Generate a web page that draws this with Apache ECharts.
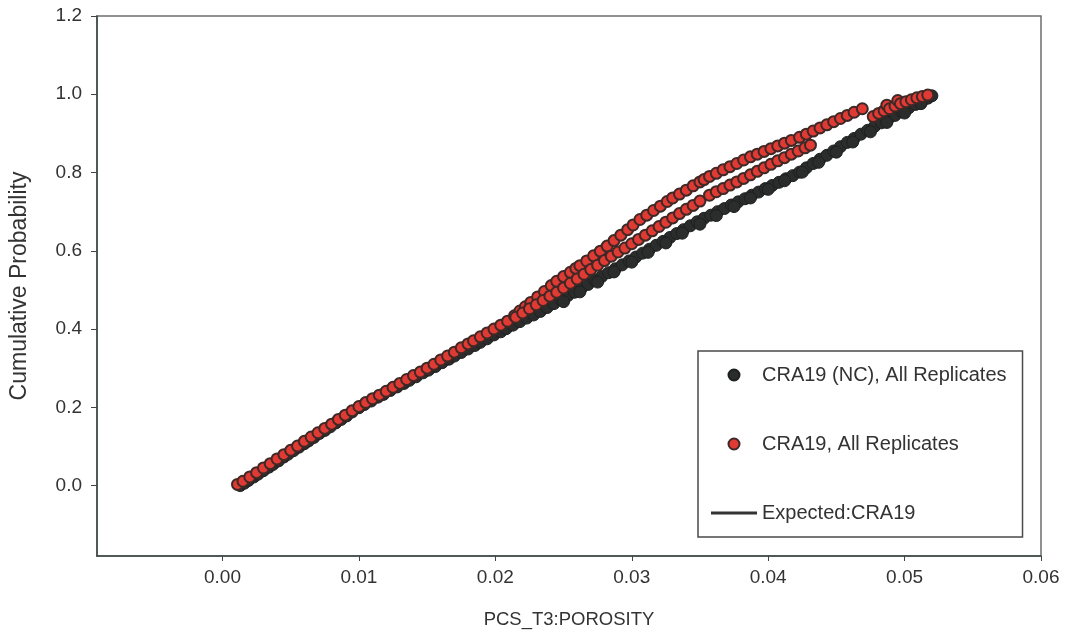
<!DOCTYPE html>
<html>
<head>
<meta charset="utf-8">
<script src="https://cdn.jsdelivr.net/npm/echarts@6/dist/echarts.min.js"></script>
<style>
html,body{margin:0;padding:0;background:#fff;}
#chart{width:1065px;height:637px;}
</style>
</head>
<body>
<div id="chart"></div>
<script>
// ---------- data ----------
const xTicks = [0, 0.01, 0.02, 0.03, 0.04, 0.05, 0.06];
const yTicks = [0, 0.2, 0.4, 0.6, 0.8, 1.0, 1.2];
const seriesNames = ['CRA19 (NC), All Replicates', 'CRA19, All Replicates', 'Expected:CRA19'];

// CRA19 (NC), All Replicates  [porosity, cumulative probability]
const ncPoints = [
[0.0013,0.000],[0.0016,0.006],[0.0019,0.013],[0.0023,0.022],[0.0026,0.029],[0.0030,0.038],[0.0034,0.047],[0.0037,0.054],
[0.0041,0.063],[0.0045,0.073],[0.0048,0.080],[0.0052,0.089],[0.0056,0.098],[0.0060,0.107],[0.0063,0.114],[0.0067,0.123],
[0.0071,0.133],[0.0075,0.141],[0.0079,0.150],[0.0083,0.160],[0.0087,0.169],[0.0091,0.178],[0.0095,0.188],[0.0100,0.199],
[0.0104,0.207],[0.0109,0.216],[0.0114,0.226],[0.0118,0.233],[0.0123,0.243],[0.0128,0.252],[0.0133,0.261],[0.0137,0.269],
[0.0142,0.278],[0.0147,0.288],[0.0151,0.295],[0.0156,0.304],[0.0161,0.314],[0.0166,0.323],[0.0170,0.331],[0.0175,0.340],
[0.0180,0.349],[0.0185,0.358],[0.0189,0.366],[0.0194,0.375],[0.0199,0.385],[0.0204,0.393],[0.0208,0.401],[0.0213,0.410],
[0.0218,0.419],[0.0223,0.428],[0.0228,0.436],[0.0233,0.445],[0.0238,0.455],[0.0243,0.465],[0.0248,0.475],[0.0253,0.485],
[0.0258,0.494],[0.0263,0.504],[0.0268,0.514],[0.0273,0.524],[0.0278,0.534],[0.0283,0.544],[0.0288,0.554],[0.0293,0.564],
[0.0298,0.574],[0.0303,0.584],[0.0308,0.594],[0.0313,0.604],[0.0318,0.614],[0.0323,0.624],[0.0328,0.634],[0.0333,0.644],
[0.0338,0.654],[0.0343,0.664],[0.0348,0.674],[0.0353,0.683],[0.0358,0.691],[0.0363,0.700],[0.0368,0.708],[0.0373,0.717],
[0.0378,0.725],[0.0383,0.733],[0.0388,0.742],[0.0393,0.750],[0.0398,0.759],[0.0403,0.767],[0.0408,0.775],[0.0413,0.784],
[0.0418,0.792],[0.0423,0.801],[0.0428,0.812],[0.0433,0.823],[0.0438,0.834],[0.0443,0.844],[0.0448,0.855],[0.0453,0.866],
[0.0458,0.877],[0.0463,0.887],[0.0468,0.898],[0.0473,0.908],[0.0478,0.918],[0.0483,0.927],[0.0488,0.937],[0.0493,0.946],
[0.0498,0.955],[0.0503,0.965],[0.0508,0.974],[0.0513,0.983],[0.0517,0.990],[0.0520,0.996],
// second replicate run, lying just beside the first in the upper half
[0.0250,0.470],[0.0262,0.495],[0.0275,0.520],[0.0287,0.546],[0.0300,0.571],[0.0312,0.596],[0.0325,0.620],[0.0337,0.645],
[0.0350,0.668],[0.0362,0.690],[0.0375,0.713],[0.0387,0.735],[0.0400,0.757],[0.0412,0.779],[0.0425,0.801],[0.0437,0.826],
[0.0450,0.852],[0.0462,0.878],[0.0475,0.904],[0.0487,0.928],[0.0500,0.952],[0.0512,0.976]
];

// CRA19, All Replicates (main/upper run)
const craUpper = [
[0.0011,0.003],[0.0015,0.011],[0.0020,0.022],[0.0025,0.033],[0.0030,0.045],[0.0035,0.056],[0.0040,0.068],[0.0045,0.079],
[0.0050,0.090],[0.0055,0.101],[0.0060,0.113],[0.0065,0.124],[0.0070,0.135],[0.0075,0.146],[0.0080,0.157],[0.0085,0.169],
[0.0090,0.180],[0.0095,0.191],[0.0100,0.202],[0.0105,0.212],[0.0110,0.222],[0.0115,0.231],[0.0120,0.241],[0.0125,0.251],
[0.0130,0.261],[0.0135,0.271],[0.0140,0.281],[0.0145,0.290],[0.0150,0.300],[0.0155,0.310],[0.0160,0.321],[0.0165,0.331],
[0.0170,0.341],[0.0175,0.352],[0.0180,0.362],[0.0184,0.370],[0.0189,0.380],[0.0194,0.390],[0.0199,0.400],[0.0204,0.410],
[0.0209,0.420],[0.0214,0.434],[0.0218,0.446],[0.0222,0.457],[0.0226,0.468],[0.0231,0.482],[0.0236,0.496],[0.0241,0.511],
[0.0245,0.522],[0.0250,0.534],[0.0255,0.545],[0.0259,0.555],[0.0262,0.562],[0.0267,0.574],[0.0272,0.587],[0.0277,0.599],
[0.0282,0.612],[0.0287,0.626],[0.0292,0.640],[0.0297,0.654],[0.0301,0.666],[0.0306,0.680],[0.0311,0.691],[0.0316,0.703],
[0.0321,0.714],[0.0326,0.726],[0.0330,0.735],[0.0335,0.745],[0.0340,0.755],[0.0345,0.766],[0.0350,0.776],[0.0353,0.782],
[0.0357,0.790],[0.0362,0.798],[0.0367,0.807],[0.0372,0.815],[0.0377,0.823],[0.0382,0.832],[0.0387,0.840],[0.0392,0.847],
[0.0397,0.854],[0.0402,0.861],[0.0407,0.868],[0.0412,0.875],[0.0417,0.882],[0.0423,0.890],[0.0428,0.898],[0.0433,0.906],
[0.0438,0.914],[0.0443,0.922],[0.0448,0.930],[0.0453,0.938],[0.0458,0.946],[0.0463,0.954],[0.0469,0.963]
];
// CRA19, All Replicates (lower run)
const craLower = [
[0.0215,0.430],[0.0220,0.441],[0.0225,0.452],[0.0230,0.462],[0.0235,0.473],[0.0240,0.484],[0.0245,0.494],[0.0250,0.505],
[0.0255,0.517],[0.0260,0.528],[0.0265,0.540],[0.0270,0.552],[0.0275,0.563],[0.0280,0.575],[0.0285,0.586],[0.0290,0.597],
[0.0295,0.607],[0.0300,0.618],[0.0305,0.629],[0.0310,0.640],[0.0315,0.651],[0.0320,0.662],[0.0325,0.673],[0.0330,0.684],
[0.0335,0.695],[0.0340,0.706],[0.0345,0.716],[0.0350,0.727],[0.0357,0.742],[0.0362,0.751],[0.0367,0.759],[0.0372,0.768],
[0.0377,0.776],[0.0382,0.785],[0.0387,0.794],[0.0392,0.803],[0.0397,0.812],[0.0402,0.821],[0.0407,0.830],[0.0412,0.838],
[0.0417,0.847],[0.0422,0.855],[0.0427,0.863],[0.0431,0.870]
];
// CRA19, All Replicates (top-right group)
const craTop = [
[0.0477,0.943],[0.0481,0.951],[0.0485,0.958],[0.0487,0.972],[0.0489,0.963],[0.0493,0.970],[0.0495,0.984],[0.0497,0.976],
[0.0501,0.981],[0.0505,0.986],[0.0509,0.991],[0.0513,0.994],[0.0517,0.998]
];

// Expected:CRA19 (theoretical CDF, mostly hidden under the NC points)
const expectedPoints = [[0.0013,0.000],[0.0100,0.200],[0.0233,0.445],[0.0350,0.676],[0.0423,0.801],[0.0520,0.996]];

// ---------- chart ----------
const FONT = '"Liberation Sans", Arial, Helvetica, sans-serif';
const chart = echarts.init(document.getElementById('chart'), null, {renderer: 'canvas'});
const craPoints = craUpper.concat(craLower, craTop);

chart.setOption({
  backgroundColor: '#ffffff',
  animation: false,
  grid: {
    left: 97, right: 24, top: 16, bottom: 81,
    show: true, borderColor: '#6e6e6e', borderWidth: 1.5, backgroundColor: 'transparent'
  },
  legend: {
    data: [
      {name: seriesNames[0], icon: 'circle'},
      {name: seriesNames[1], icon: 'circle'},
      {name: seriesNames[2], icon: 'path://M0,0 L46,0 L46,3 L0,3 Z', itemStyle: {color: '#333333', borderWidth: 0}}
    ],
    orient: 'vertical',
    left: 698, top: 351,
    padding: [14, 16, 14, 13],
    itemWidth: 46, itemHeight: 11, itemGap: 49,
    borderColor: '#4a4a4a', borderWidth: 1.5,
    backgroundColor: '#ffffff',
    textStyle: {fontFamily: FONT, fontSize: 20, color: '#333333'},
    selectedMode: false
  },
  xAxis: {
    type: 'value', min: -0.0092, max: 0.06,
    name: 'PCS_T3:POROSITY', nameLocation: 'middle', nameGap: 54,
    nameTextStyle: {fontFamily: FONT, fontSize: 18.5, color: '#333333'},
    axisLine: {show: true, onZero: false, lineStyle: {color: '#3c4646', width: 1.5}},
    axisTick: {show: true, inside: false, length: 5, customValues: xTicks, lineStyle: {color: '#3c4646', width: 1}},
    axisLabel: {customValues: xTicks, formatter: v => v.toFixed(2), margin: 12,
      fontFamily: FONT, fontSize: 19, color: '#333333'},
    splitLine: {show: false}
  },
  yAxis: {
    type: 'value', min: -0.18, max: 1.2,
    name: 'Cumulative Probability', nameLocation: 'middle', nameGap: 66,
    nameTextStyle: {fontFamily: FONT, fontSize: 23, color: '#333333'},
    axisLine: {show: true, onZero: false, lineStyle: {color: '#3c4646', width: 1.5}},
    axisTick: {show: true, inside: false, length: 6, customValues: yTicks, lineStyle: {color: '#3c4646', width: 1}},
    axisLabel: {customValues: yTicks, formatter: v => v.toFixed(1), margin: 15,
      fontFamily: FONT, fontSize: 19, color: '#333333'},
    splitLine: {show: false}
  },
  series: [
    {
      name: 'Expected:CRA19', type: 'line', data: expectedPoints,
      symbol: 'none', z: 1,
      lineStyle: {color: '#333333', width: 2.5},
      itemStyle: {color: '#333333'}
    },
    {
      name: 'CRA19 (NC), All Replicates', type: 'scatter', data: ncPoints,
      symbol: 'circle', symbolSize: 12, z: 2,
      itemStyle: {color: '#2a2d2c', borderColor: '#1e2020', borderWidth: 1, opacity: 1}
    },
    {
      name: 'CRA19, All Replicates', type: 'scatter', data: craPoints,
      symbol: 'circle', symbolSize: 11, z: 3,
      itemStyle: {color: '#df3a33', borderColor: '#3f2826', borderWidth: 2, opacity: 1}
    }
  ]
});
</script>
</body>
</html>
